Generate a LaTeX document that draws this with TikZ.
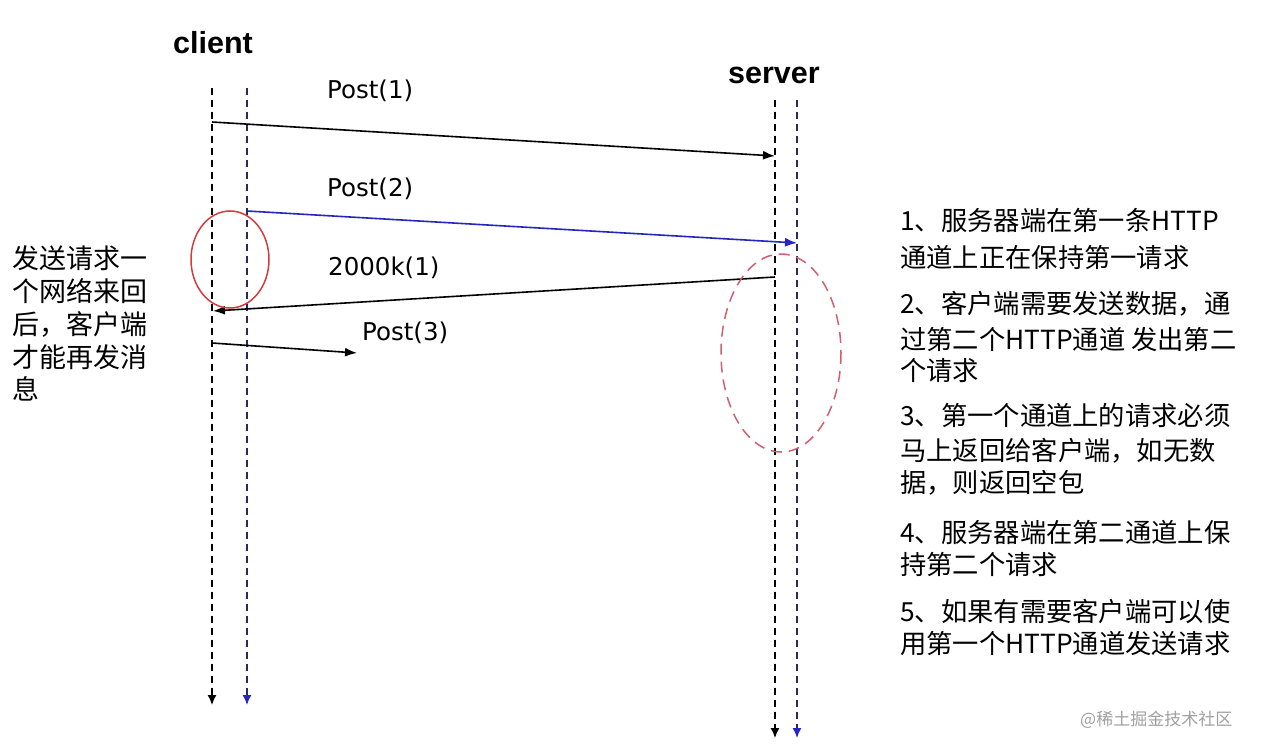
\documentclass[tikz,border=0pt]{standalone}
\usepackage{fontspec}
\setmainfont{Liberation Sans}
\newfontfamily\lblfont{DejaVu Sans}
\newfontfamily\cjk{Noto Sans CJK SC}
\usetikzlibrary{arrows.meta}
\definecolor{msgblue}{HTML}{2525C0}
\definecolor{lineblue}{HTML}{2A2A55}
\definecolor{ringred}{HTML}{D23C3C}
\definecolor{dashred}{HTML}{D06070}
\definecolor{wmgray}{HTML}{A0A0A0}
\begin{document}
\begin{tikzpicture}[x=1pt,y=-1pt,
  lifeline/.style={line width=1.5pt, dash pattern=on 7pt off 5pt},
  lifetip/.style={-{Latex[length=10pt,width=9pt]}},
  msg/.style={line width=1.6pt, -{Latex[length=12pt,width=9pt]}},
  lbl/.style={inner sep=0, anchor=west, font=\fontsize{24.5}{24.5}\selectfont\lblfont},
  actor/.style={inner sep=0, anchor=center, font=\fontsize{30.5}{30.5}\selectfont\bfseries},
  cnleft/.style={inner sep=0, anchor=west, font=\fontsize{27}{27}\selectfont\cjk},
  cnright/.style={inner sep=0, anchor=west, font=\fontsize{26.3}{26.3}\selectfont\cjk},
]
\useasboundingbox[fill=white] (0,0) rectangle (1262,752);

% actors
\node[actor] (client) at (213,43) {client};
\node[actor] (server) at (774,75) {server};

% lifeline coordinates
\coordinate (c1top) at (212,88);  \coordinate (c1bot) at (212,705);
\coordinate (c2top) at (247,88);  \coordinate (c2bot) at (247,705);
\coordinate (s1top) at (775,100); \coordinate (s1bot) at (775,738);
\coordinate (s2top) at (797,100); \coordinate (s2bot) at (797,738);

\draw[lifeline, lifetip] (c1top) -- (c1bot);
\draw[lifeline, lineblue, -{Latex[length=10pt,width=9pt,color=msgblue]}] (c2top) -- (c2bot);
\draw[lifeline, lifetip] (s1top) -- (s1bot);
\draw[lifeline, lineblue, -{Latex[length=10pt,width=9pt,color=msgblue]}] (s2top) -- (s2bot);

% message end points
\coordinate (p1a) at (212,122); \coordinate (p1b) at (775,156);
\coordinate (p2a) at (247,211); \coordinate (p2b) at (797,243);
\coordinate (r1a) at (775,277); \coordinate (r1b) at (213,311);
\coordinate (p3a) at (212,343); \coordinate (p3b) at (357,353);

\draw[msg] (p1a) -- (p1b);
\draw[msg, msgblue] (p2a) -- (p2b);
\draw[msg] (r1a) -- (r1b);
\draw[msg] (p3a) -- (p3b);

% message labels
\node[lbl] (lp1) at (327,91) {Post(1)};
\node[lbl] (lp2) at (327,189) {Post(2)};
\node[lbl] (lr1) at (328,267.5) {2000k(1)};
\node[lbl] (lp3) at (362,332.5) {Post(3)};

% ellipses
\draw[ringred, line width=1.5pt] (230,259.5) ellipse [x radius=39, y radius=48.5];
\draw[dashred, line width=1.5pt, dash pattern=on 11pt off 7pt] (781,353) ellipse [x radius=60, y radius=99];

% left note
\node[cnleft] (n1) at (12,258) {发送请求一};
\node[cnleft] (n2) at (12,291) {个网络来回};
\node[cnleft] (n3) at (12,324) {后，客户端};
\node[cnleft] (n4) at (12,357) {才能再发消};
\node[cnleft] (n5) at (12,389) {息};

% right notes
\node[cnright] (a1) at (900,220) {1、服务器端在第一条HTTP};
\node[cnright] (a2) at (900,257) {通道上正在保持第一请求};
\node[cnright] (b1) at (900,304) {2、客户端需要发送数据，通};
\node[cnright] (b2) at (900,339) {过第二个HTTP通道 发出第二};
\node[cnright] (b3) at (900,371) {个请求};
\node[cnright] (c1) at (900,415) {3、第一个通道上的请求必须};
\node[cnright] (c2) at (900,451) {马上返回给客户端，如无数};
\node[cnright] (c3) at (900,483) {据，则返回空包};
\node[cnright] (d1) at (900,532) {4、服务器端在第二通道上保};
\node[cnright] (d2) at (900,564) {持第二个请求};
\node[cnright] (e1) at (900,611) {5、如果有需要客户端可以使};
\node[cnright] (e2) at (900,644) {用第一个HTTP通道发送请求};

% watermark
\node[inner sep=0, anchor=west, text=wmgray, font=\fontsize{17}{17}\selectfont\cjk] (wm) at (1080,720) {@稀土掘金技术社区};
\end{tikzpicture}
\end{document}
